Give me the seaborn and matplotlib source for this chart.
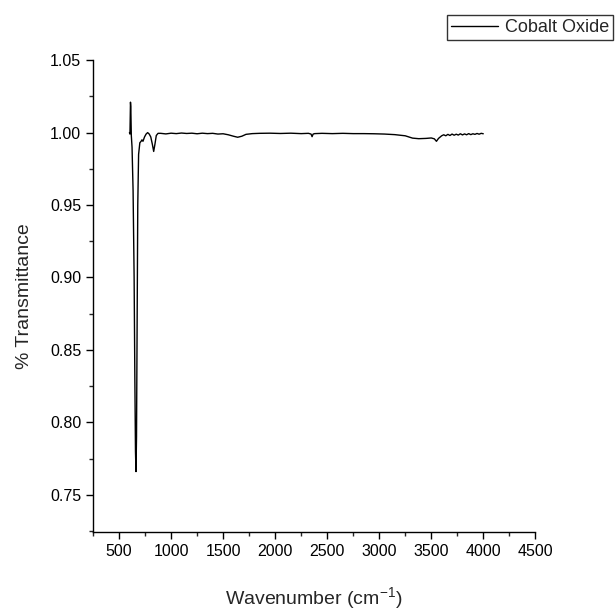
import numpy as np
import pandas as pd
import matplotlib
matplotlib.use("Agg")
import matplotlib.pyplot as plt
from matplotlib.ticker import MultipleLocator
import seaborn as sns

# FTIR spectrum of cobalt oxide
wavenumber = [600, 605, 610, 613, 618, 625, 635, 645, 652, 658, 663, 668, 674, 680, 688,
              700, 712, 720, 730, 745, 760, 775, 790, 805, 820, 833, 845, 858, 875,
              900, 950, 1000, 1050, 1100, 1150, 1200, 1250, 1300, 1350, 1400, 1450,
              1500, 1550, 1600, 1640, 1680, 1720, 1780, 1850, 1950, 2050, 2150, 2250,
              2320, 2345, 2355, 2365, 2380, 2450, 2550, 2650, 2750, 2850, 2950, 3050,
              3150, 3250, 3320, 3380, 3450, 3500, 3530, 3550, 3570, 3600, 3620, 3640,
              3660, 3680, 3700, 3720, 3740, 3760, 3780, 3800, 3820, 3840, 3860, 3880,
              3900, 3920, 3940, 3960, 3980, 4000]
transmittance = [1.000, 0.999, 1.021, 1.018, 0.998, 0.990, 0.960, 0.900, 0.830, 0.780,
                 0.766, 0.790, 0.870, 0.950, 0.985,
                 0.993, 0.994, 0.995, 0.994, 0.997, 0.999, 1.000, 0.999, 0.997, 0.992,
                 0.987, 0.992, 0.998, 0.9995,
                 0.9995, 0.9991, 0.9996, 0.9993, 0.9997, 0.9994, 0.9996, 0.9992, 0.9996,
                 0.9993, 0.9995, 0.9990,
                 0.9992, 0.9985, 0.9975, 0.9968, 0.9975, 0.9988, 0.9993, 0.9995, 0.9996,
                 0.9994, 0.9996, 0.9993,
                 0.9995, 0.9990, 0.9972, 0.9990, 0.9993, 0.9995, 0.9993, 0.9995, 0.9993,
                 0.9993, 0.9992, 0.9990,
                 0.9986, 0.9978, 0.9962, 0.9958, 0.9960, 0.9963, 0.9957, 0.9940, 0.9960,
                 0.9978, 0.9985, 0.9978,
                 0.9988, 0.9980, 0.9990, 0.9982, 0.9989, 0.9983, 0.9992, 0.9984, 0.9991,
                 0.9985, 0.9993, 0.9986,
                 0.9992, 0.9988, 0.9994, 0.9989, 0.9995, 0.9992]

df = pd.DataFrame({"Wavenumber": wavenumber, "Transmittance": transmittance})

sns.set_style("ticks")
plt.rcParams["font.family"] = ["Liberation Sans", "DejaVu Sans"]

fig = plt.figure(figsize=(6.16, 6.14), dpi=100)
ax = fig.add_axes([0.151, 0.134, 0.718, 0.768])

sns.lineplot(data=df, x="Wavenumber", y="Transmittance", color="black",
             linewidth=1.0, ax=ax, label="Cobalt Oxide", legend=False)

ax.set_xlim(250, 4500)
ax.set_ylim(0.7245, 1.05)
ax.set_xticks(np.arange(500, 4501, 500))
ax.set_yticks(np.arange(0.75, 1.051, 0.05))
ax.set_yticklabels([f"{v:.2f}" for v in np.arange(0.75, 1.051, 0.05)])
ax.xaxis.set_minor_locator(MultipleLocator(250))
ax.yaxis.set_minor_locator(MultipleLocator(0.025))
ax.tick_params(which="major", direction="out", length=5, width=1, labelsize=11.5, colors="black")
ax.tick_params(which="minor", direction="out", length=3, width=1)
sns.despine(ax=ax)
for s in ["left", "bottom"]:
    ax.spines[s].set_linewidth(1.0)
    ax.spines[s].set_color("black")

ax.set_xlabel("Wavenumber (cm$^{\\mathregular{-1}}$)", fontsize=14, labelpad=19)
ax.set_ylabel("% Transmittance", fontsize=14, labelpad=12)

leg = fig.legend(loc="upper right", bbox_to_anchor=(0.995, 0.975), frameon=True,
                 fancybox=False, edgecolor="black", fontsize=13, handlelength=2.6,
                 borderpad=0.2, handletextpad=0.4, borderaxespad=0)
leg.get_frame().set_linewidth(1.0)

fig.savefig("out.png", dpi=100)
